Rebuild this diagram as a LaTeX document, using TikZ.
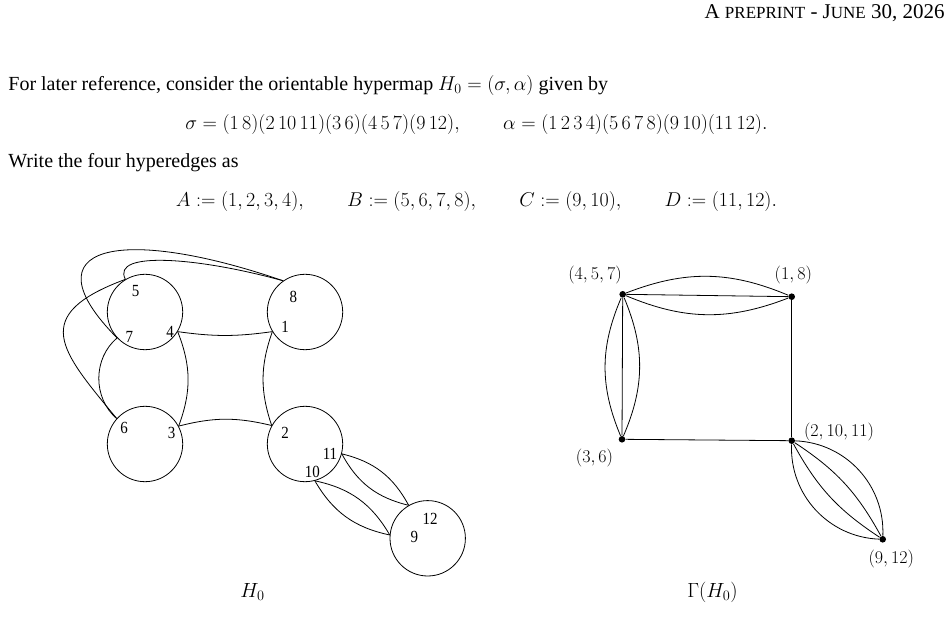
\RequirePackage{fix-cm}
\documentclass[tikz,border=0pt]{standalone}
\usepackage[no-math]{fontspec}
\setmainfont{Liberation Serif}
\newfontfamily\numfont{Liberation Serif}[FakeStretch=0.88]
\begin{document}
\begin{tikzpicture}[x=1pt,y=-1pt, line width=0.8pt,
  hcirc/.style={circle,draw,minimum size=75.4pt,inner sep=0pt},
  num/.style={inner sep=0pt,font=\numfont\fontsize{17}{20}\selectfont},
  gdot/.style={circle,fill,inner sep=0pt,minimum size=6.6pt},
  glab/.style={inner sep=0pt,font=\fontsize{18}{22}\selectfont},
  figcaption/.style={inner sep=0pt,font=\fontsize{20.5}{24}\selectfont},
  txt/.style={inner sep=0pt,anchor=base west,font=\fontsize{20}{24}\selectfont},
  disp/.style={inner sep=0pt,anchor=base,font=\fontsize{20}{24}\selectfont}]
\useasboundingbox (0,0) rectangle (948,617);

% page text
\node[inner sep=0pt,anchor=base east,font=\fontsize{21}{25}\selectfont] (hdr) at (945,19)
  {A {\fontsize{17}{20}\selectfont PREPRINT} - J{\fontsize{17}{20}\selectfont UNE} 30, 2026};
\node[txt] (l1) at (8,91) {For later reference, consider the orientable hypermap $H_0=(\sigma,\alpha)$ given by};
\node[disp] (l2) at (476.5,130) {$\sigma=(1\,8)(2\,10\,11)(3\,6)(4\,5\,7)(9\,12),\qquad \alpha=(1\,2\,3\,4)(5\,6\,7\,8)(9\,10)(11\,12).$};
\node[txt] (l3) at (8,168) {Write the four hyperedges as};
\node[disp] (l4) at (476.5,207) {$A:=(1,2,3,4),\qquad B:=(5,6,7,8),\qquad C:=(9,10),\qquad D:=(11,12).$};

% hypermap H_0
\node[hcirc] (cB) at (145,312) {};
\node[hcirc] (cE) at (305,312) {};
\node[hcirc] (cF) at (145,444) {};
\node[hcirc] (cA) at (305,444) {};
\node[hcirc] (cG) at (427.7,538.3) {};

\node[num] (n5) at (135.7,290.7) {5};
\node[num] (n7) at (129.3,336.7) {7};
\node[num] (n4) at (170,332.3) {4};
\node[num] (n8) at (293.3,296.7) {8};
\node[num] (n1) at (285,326.7) {1};
\node[num] (n6) at (124,428.3) {6};
\node[num] (n3) at (171.7,432.7) {3};
\node[num] (n2) at (285,433.3) {2};
\node[num] (n11) at (330,454) {11};
\node[num] (n10) at (312.3,471.7) {10};
\node[num] (n12) at (430,519) {12};
\node[num] (n9) at (414.3,536.7) {9};

\draw (cB.-31.6) to[bend right=8] (cE.211.9);
\draw (cF.28.4) to[bend left=14] (cA.151.6);
\draw (cB.-31.6) to[bend left=21] (cF.28.4);
\draw (cE.211.9) to[bend right=19] (cA.151.6);
\draw (cB.223.5) to[bend right=50] (cF.138.9);
\draw (cB.121.5) .. controls +(-97,36) and +(-56,-68) .. (cF.138.9);
\draw (cE.125.7) .. controls +(-162.7,-56) and +(-92.3,-93.3) .. (cB.223.5);
\draw (cE.125.7) .. controls +(-82.7,-23) and +(-15,-29.3) .. (cB.121.5);
\draw (cA.-15.7) to[bend left=24] (cG.120);
\draw (cA.-15.7) to[bend right=24] (cG.120);
\draw (cA.-75) to[bend left=24] (cG.175);
\draw (cA.-75) to[bend right=24] (cG.175);

\node[figcaption] (capH) at (252.5,592) {$H_0$};

% graph Gamma(H_0)
\node[gdot] (v457) at (622.7,294.3) {};
\node[gdot] (v18) at (791.7,296.7) {};
\node[gdot] (v36) at (622,439.3) {};
\node[gdot] (v21011) at (791.7,440.7) {};
\node[gdot] (v912) at (882.7,539.3) {};

\node[glab] (t457) at (595,275.3) {$(4,5,7)$};
\node[glab] (t18) at (793.3,275) {$(1,8)$};
\node[glab] (t36) at (594.5,458) {$(3,6)$};
\node[glab] (t21011) at (839,432) {$(2,10,11)$};
\node[glab] (t912) at (891.3,558.7) {$(9,12)$};

\draw (v457) -- (v18);
\draw (v457) to[bend left=22] (v18);
\draw (v457) to[bend right=22] (v18);
\draw (v457) -- (v36);
\draw (v457) to[bend left=23] (v36);
\draw (v457) to[bend right=23] (v36);
\draw (v18) -- (v21011);
\draw (v36) -- (v21011);
\draw (v21011) to[bend left=45] (v912);
\draw (v21011) to[bend right=45] (v912);
\draw (v21011) to[bend left=14] (v912);
\draw (v21011) to[bend right=14] (v912);

\node[figcaption] (capG) at (712.5,592.5) {$\Gamma(H_0)$};
\end{tikzpicture}
\end{document}
